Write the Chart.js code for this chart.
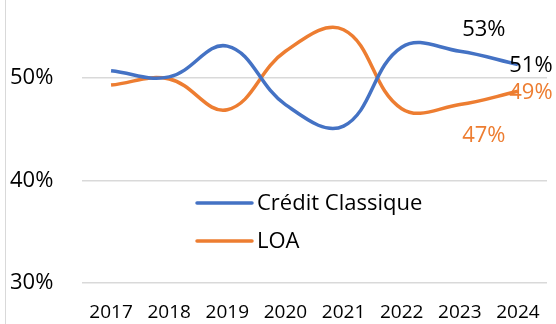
<!DOCTYPE html>
<html>
<head>
<meta charset="utf-8">
<script src="https://cdn.jsdelivr.net/npm/chart.js@4.4.0/dist/chart.umd.min.js"></script>
<style>
    html, body { margin: 0; padding: 0; background: #fff; }
    .chart-box { position: relative; width: 556px; height: 324px; }
</style>
</head>
<body>
<div class="chart-box">
    <canvas id="shareChart" width="556" height="324"></canvas>
</div>
<script>
// Part de marché par année
const years = ['2017', '2018', '2019', '2020', '2021', '2022', '2023', '2024'];
const creditClassique = [50.7, 50.1, 53.1, 47.4, 45.3, 53.0, 52.6, 51.3];
const loa = [49.3, 49.9, 46.9, 52.6, 54.7, 47.0, 47.4, 48.7];
const yTicks = [30, 40, 50];
// indexes that carry a value label
const labelledPoints = [6, 7];

document.addEventListener('DOMContentLoaded', function() {
    const ctx = document.getElementById('shareChart');
    const font = "'Open Sans', 'DejaVu Sans', sans-serif";

    // thin frame line on the left side
    const frameLine = {
        id: 'frameLine',
        beforeDraw(chart) {
            const c = chart.ctx;
            c.save();
            c.strokeStyle = '#d9d9d9';
            c.lineWidth = 1;
            c.beginPath();
            c.moveTo(5.5, 0);
            c.lineTo(5.5, chart.height);
            c.stroke();
            c.restore();
        }
    };

    // legend drawn inside the plot
    const innerLegend = {
        id: 'innerLegend',
        afterDatasetsDraw(chart, args, opts) {
            const c = chart.ctx;
            c.save();
            c.font = '22px ' + font;
            c.textBaseline = 'middle';
            c.textAlign = 'left';
            chart.data.datasets.forEach((ds, i) => {
                const y = opts.y + i * opts.rowGap;
                c.strokeStyle = ds.borderColor;
                c.lineWidth = 3.5;
                c.lineCap = 'round';
                c.beginPath();
                c.moveTo(opts.x, y);
                c.lineTo(opts.x + opts.lineLength, y);
                c.stroke();
                c.fillStyle = '#000';
                c.fillText(ds.label, opts.x + opts.lineLength + 5, y + 1);
            });
            c.restore();
        }
    };

    // value labels near the last points
    const valueLabels = {
        id: 'valueLabels',
        afterDatasetsDraw(chart, args, opts) {
            const c = chart.ctx;
            c.save();
            c.font = '22px ' + font;
            c.textAlign = 'center';
            c.textBaseline = 'middle';
            chart.data.datasets.forEach((ds, i) => {
                const meta = chart.getDatasetMeta(i);
                labelledPoints.forEach(idx => {
                    const pt = meta.data[idx];
                    const off = opts.offsets[i][idx];
                    c.fillStyle = opts.colors[i];
                    c.fillText(Math.round(ds.data[idx]) + '%', pt.x + off[0], pt.y + off[1]);
                });
            });
            c.restore();
        }
    };

    new Chart(ctx, {
        type: 'line',
        data: {
            labels: years,
            datasets: [{
                label: 'Crédit Classique',
                data: creditClassique,
                borderColor: '#4472C4',
                borderWidth: 3.5,
                tension: 0.4,
                pointRadius: 0
            }, {
                label: 'LOA',
                data: loa,
                borderColor: '#ED7D31',
                borderWidth: 3.5,
                tension: 0.4,
                pointRadius: 0
            }]
        },
        options: {
            responsive: false,
            animation: false,
            layout: { padding: { left: 10, right: 9, top: 0, bottom: 0 } },
            plugins: {
                legend: { display: false },
                tooltip: { enabled: false },
                innerLegend: { x: 197, y: 203, rowGap: 38, lineLength: 55 },
                valueLabels: {
                    colors: ['#000', '#ED7D31'],
                    offsets: [
                        { 6: [24, -22], 7: [13, 1] },
                        { 6: [24, 31], 7: [13, 1] }
                    ]
                }
            },
            scales: {
                x: {
                    offset: true,
                    grid: { display: false },
                    border: { display: false },
                    ticks: {
                        color: '#000',
                        font: { family: font, size: 19 },
                        padding: 10,
                        maxRotation: 0
                    },
                    afterFit(scale) {
                        scale.height = 41;
                        scale.paddingLeft = 0;
                        scale.paddingRight = 0;
                    }
                },
                y: {
                    min: 30,
                    max: 57.6,
                    grid: { color: '#d9d9d9', lineWidth: 1.5, drawTicks: false },
                    border: { display: false },
                    ticks: {
                        color: '#000',
                        crossAlign: 'far',
                        font: { family: font, size: 22 },
                        callback: v => v + '%'
                    },
                    afterBuildTicks(scale) {
                        scale.ticks = yTicks.map(v => ({ value: v }));
                    },
                    afterFit(scale) {
                        scale.width = 72;
                        scale.paddingTop = 0;
                        scale.paddingBottom = 0;
                    }
                }
            }
        },
        plugins: [frameLine, innerLegend, valueLabels]
    });
});
</script>
</body>
</html>
